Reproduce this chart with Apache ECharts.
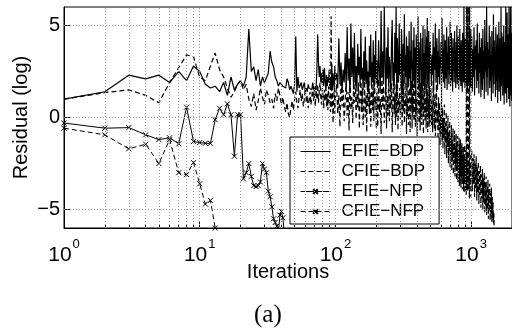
<!DOCTYPE html>
<html>
<head>
<meta charset="utf-8">
<script src="https://cdn.jsdelivr.net/npm/echarts@6/dist/echarts.min.js"></script>
<style>
html, body { margin: 0; padding: 0; background: #fff; }
#chart { width: 512px; height: 331px; }
</style>
</head>
<body>
<div id="chart"></div>
<script>
// residual values (log10)
// A: iterations 1..100, B: 102..200 step 2, C: 202..499 step 3, D: 505..1000 step 5, E: from 1010 step 10
var efieBdpA = [
    1.0, 1.4, 2.3, 2.1, 2.3, 1.9, 2.5, 2.0, 2.8, 2.5,
    1.8, 1.6, 1.7, 1.4, 1.9, 1.2, 2.2, 1.5, 1.8, 2.0,
    1.7, 2.2, 4.8, 2.5, 2.75, 2.0, 2.6, 1.7, 2.2, 1.9,
    2.0, 2.4, 3.6, 3.0, 2.75, 2.2, 2.0, 1.7, 1.9, 2.0,
    1.7, 1.8, 1.6, 2.1, 1.9, 1.5, 1.7, 1.6, 1.3, 1.8,
    4.4, 1.4, 2.2, 1.6, 1.5, 1.9, 1.5, 1.7, 1.9, 1.4,
    1.6, 1.4, 1.8, 1.6, 1.5, 1.7, 1.5, 1.9, 1.6, 1.4,
    1.7, 1.5, 2.6, 4.5, 3.0, 2.2, 2.8, 1.9, 2.4, 1.8,
    2.6, 1.7, 2.7, 2.0, 1.6, 2.3, 1.7, 2.2, 1.9, 2.6,
    1.5, 2.2, 1.7, 2.9, 1.5, 2.4, 2.0, 1.6, 2.8, 2.0
];
var efieBdpB = [
    2.4, 1.6, 4.3, 1.8, 3.0, 1.4, 2.6, 1.9, 3.5, 1.5,
    4.9, 2.0, 3.2, 1.3, 5.1, 2.2, 3.8, 1.6, 4.6, 1.9,
    2.8, 1.4, 4.0, 2.3, 3.3, 1.7, 4.8, 2.1, 2.7, 1.5,
    3.6, 2.0, 4.4, 1.8, 3.1, 1.6, 2.5, 1.3, 3.9, 2.2,
    4.5, 1.7, 3.0, 1.9, 4.2, 1.5, 3.4, 2.1, 4.7, 1.8
];
var efieBdpC = [
    3.1, 1.6, 4.2, 2.5, 1.3, 5.8, 2.2, 3.6, 1.8, 6.0,
    2.9, 1.2, 3.8, 2.1, 4.9, 1.7, 3.3, 2.6, 1.4, 4.1,
    5.3, 2.0, 3.0, 1.5, 4.6, 2.4, 6.0, 1.1, 4.3, 2.8,
    1.9, 5.1, 2.3, 3.5, 1.6, 4.8, 3.2, 1.3, 4.0, 2.5,
    5.6, 1.8, 3.4, 2.2, 4.4, 1.4, 3.9, 2.7, 1.7, 4.7,
    2.1, 3.6, 1.2, 5.2, 2.6, 3.1, 1.5, 4.2, 2.0, 4.9,
    1.6, 3.8, 2.4, 1.3, 4.5, 2.9, 3.3, 1.8, 5.5, 2.2,
    4.1, 1.4, 3.7, 2.6, 4.6, 1.9, 3.0, 1.1, 4.3, 2.3,
    5.0, 1.7, 3.5, 2.8, 1.5, 4.8, 2.1, 3.9, 1.3, 4.4,
    2.5, 5.4, 1.8, 3.2, 2.0, 4.7, 1.6, 3.6, 2.4, 4.1
];
var efieBdpD = [
    4.0, 1.7, 3.4, 2.3, 4.6, 1.4, 3.8, 2.6, 5.1, 1.9,
    3.1, 4.3, 1.5, 3.6, 2.2, 4.8, 1.8, 3.3, 2.7, 4.1,
    1.3, 5.4, 2.4, 3.7, 1.9, 4.5, 2.9, 1.6, 4.2, 3.0,
    2.1, 4.9, 1.5, 3.5, 2.6, 4.4, 1.8, 3.9, 2.3, 5.2,
    1.7, 3.2, 4.6, 2.0, 3.8, 1.4, 4.3, 2.8, 3.4, 1.9,
    4.7, 2.5, 3.6, 1.6, 4.1, 2.2, 5.0, 1.8, 3.3, 2.9,
    4.4, 1.5, 3.9, 2.4, 4.8, 2.0, 3.5, 1.7, 4.2, 2.7,
    3.1, 1.4, 4.6, 2.3, 3.8, 1.9, 6.0, 2.1, 3.6, 1.6,
    4.3, 2.6, 3.2, 1.8, 4.9, 2.2, 6.0, 1.5, 4.0, 2.8,
    3.7, 1.9, 6.0, 2.4, 4.5, 1.7, 3.4, 2.1, 4.8, 1.6
];
var efieBdpE = [
    4.4, 1.4, 3.7, 2.2, 4.9, 1.2, 3.9, 2.6, 4.2, 1.6,
    5.1, 2.0, 3.5, 1.3, 4.6, 2.4, 3.8, 1.1, 4.3, 2.8,
    1.5, 4.8, 2.1, 3.6, 1.0, 5.3, 2.5, 3.9, 1.4, 6.0,
    2.2, 4.1, 1.2, 3.7, 2.7, 5.0, 1.6, 4.4, 2.0, 3.4,
    0.9, 4.7, 2.3, 3.8, 1.3, 5.6, 1.8, 4.2, 2.6, 3.6,
    1.1, 4.9, 2.0, 4.0, 1.5, 4.5, 0.8, 3.9, 2.4, 5.2,
    1.4, 4.3, 2.1, 3.7, 0.9, 6.0, 1.7, 4.6, 2.5, 3.8,
    1.2, 4.4, 1.9, 5.0, 0.7, 4.1, 2.3, 3.6, 1.3, 6.0,
    2.0, 4.2, 0.8, 5.7, 1.6, 3.9, 2.2, 4.5, 1.0, 6.0,
    1.5, 4.7, 0.6, 4.0, 6.0, 5.1, 1.2, 4.4, 0.9, 4.6
];

var cfieBdpA = [
    1.0, 1.35, 1.5, 1.2, 0.8, 1.9, 2.7, 3.4, 3.3, 2.2,
    2.0, 2.8, 3.5, 2.6, 2.2, 1.6, 1.1, 1.4, 1.8, 2.0,
    1.5, 1.8, 1.0, 0.6, 1.3, 0.4, 0.9, 1.6, 1.1, 0.7,
    1.5, 1.2, 0.8, 1.0, 0.5, 1.3, 0.9, 1.6, 1.2, 0.7,
    1.1, 0.6, 0.3, 0.8, 0.2, 0.0, 0.5, 0.9, 0.4, 1.0,
    1.4, 0.8, 0.5, 1.1, 1.5, 0.9, 1.3, 0.6, 1.0, 1.6,
    0.8, 1.2, 0.5, 0.9, 1.4, 0.7, 1.1, 1.7, 0.9, 1.3,
    0.6, 1.5, 1.0, 1.8, 0.8, 1.4, 1.9, 1.1, 0.7, 1.6,
    1.2, 0.5, 1.5, 0.9, 1.8, 0.6, 1.3, 0.4, 1.7, 0.8,
    1.2, 0.3, 5.5, 0.5, 1.4, -0.3, 0.9, 1.6, 0.2, 1.1
];
var cfieBdpB = [
    1.8, 0.2, 1.2, -0.5, 2.3, 0.6, 1.5, -0.2, 0.9, 1.9,
    0.1, 1.4, -0.7, 2.6, 0.4, 1.1, -0.3, 1.7, 0.8, 2.2,
    -0.1, 1.3, 0.5, 1.9, -0.6, 1.0, 2.4, 0.3, 1.6, -0.4,
    0.7, 2.0, 0.0, 1.2, -0.8, 1.8, 0.6, 2.5, 0.2, 1.4,
    -0.5, 0.9, 2.1, 0.4, 1.5, -0.2, 2.3, 0.7, 1.1, -0.6
];
var cfieBdpC = [
    1.4, -0.5, 2.1, 0.3, 1.0, -0.9, 2.5, 0.6, 1.7, -0.3,
    0.9, 2.2, -0.6, 1.2, 0.1, 2.6, -0.2, 1.5, 0.5, 1.9,
    -0.8, 0.8, 2.3, 0.2, 1.3, -0.4, 1.8, 0.0, 2.7, -0.7,
    1.1, 0.4, 1.6, -0.1, 0.7, 2.0, -0.5, 1.4, 0.3, 2.4,
    -0.3, 1.0, 0.6, 1.9, -0.9, 1.2, 0.1, 2.2, -0.4, 0.8,
    1.6, -0.8, 1.1, 0.5, 2.0, -0.6, 1.3, 0.2, 1.8, -0.2,
    0.9, 2.4, -0.5, 1.5, 0.3, 1.0, -1.0, 1.7, 0.6, 2.1,
    -0.3, 0.7, 1.4, -0.7, 1.9, 0.0, 1.2, -0.4, 2.3, 0.4,
    0.8, -0.9, 1.6, 0.2, 2.6, -0.2, 1.1, 0.5, -0.6, 1.8,
    0.3, 1.4, -0.8, 2.0, 0.1, 1.0, -0.5, 1.7, 0.6, -0.3
];
var cfieBdpD = [
    1.6, -0.4, 0.9, -0.8, 2.0, 0.2, -0.6, 1.3, -1.0, 0.6,
    1.8, -0.3, 0.4, -1.2, 1.1, -0.7, 0.8, -1.5, 0.2, -0.9,
    1.3, -1.3, 0.5, -1.7, 0.0, -1.1, 0.7, -2.0, -0.3, -1.4,
    0.3, -2.2, -0.5, -1.6, 0.1, -2.5, -0.8, -1.8, -0.2, -2.7,
    -1.0, -2.1, -0.4, -2.9, -1.2, -2.3, -0.6, -3.1, -1.4, -2.5,
    -0.7, -3.2, -1.6, -2.6, -0.9, -3.4, -1.3, -2.8, -1.0, -3.5,
    -1.7, -3.0, -1.1, -3.7, -1.5, -3.2, -1.2, -3.8, -1.8, -3.3,
    -1.4, -3.9, -2.0, -3.4, -1.6, -4.0, -2.1, -3.5, -1.5, -4.1,
    -2.2, -3.6, -1.7, -4.2, 6.0, -3.8, -1.9, -4.0, -2.3, 6.0,
    -1.8, -3.9, -2.4, -4.4, 6.0, -2.0, -3.7, -2.6, -4.3, -2.2
];
var cfieBdpE = [
    -1.8, -4.0, -2.2, -3.6, -2.0, -4.3, -2.5, -3.9, -2.1, -4.5,
    -2.7, -4.1, -2.4, -4.7, -2.9, -4.2, -2.6, -4.9, -3.1, -4.4,
    -2.8, -5.0, -3.3, -4.6, -3.0, -5.2, -3.5, -4.8, -3.2, -5.3,
    -3.7, -5.0, -3.4, -5.5, -3.9, -5.1, -3.6, -5.6, -4.1, -5.3,
    -3.8, -5.7, -4.3, -5.5, -4.6, -5.8, -5.2, -6.5
];

// iterations 1..42
var efieNfp = [
    -0.3, -0.58, -0.55, -0.94, -1.2, -1.1, -1.43, 0.56, -1.3, -1.36,
    -1.4, -1.4, -0.12, 0.5, 0.15, 0.74, 0.15, -2.1, 0.15, 0.15,
    -3.33, -3.0, -2.5, -3.2, -3.7, -3.75, -3.7, -3.5, -2.5, -2.8,
    -3.0, -4.0, -4.3, -4.85, -5.5, -5.7, -5.9, -6.2, -5.3, -5.1,
    -5.45, -6.3
];
// iterations 1..13
var cfieNfp = [
    -0.58, -0.94, -1.7, -1.45, -2.5, -1.2, -3.0, -3.1, -2.45, -3.6,
    -4.7, -4.5, -6.0
];

var xLabelTicks = [1, 10, 100, 1000];
var xGridTicks = [2, 3, 4, 5, 6, 7, 8, 9, 10, 20, 30, 40, 50, 60, 70, 80, 90, 100,
    200, 300, 400, 500, 600, 700, 800, 900, 1000];
var yTicks = [-5, 0, 5];
var seriesNames = ["EFIE\u2212BDP", "CFIE\u2212BDP", "EFIE\u2212NFP", "CFIE\u2212NFP"];

function seg(start, step, values) {
    var out = [];
    for (var i = 0; i < values.length; i++) {
        out.push([start + i * step, values[i]]);
    }
    return out;
}

var efieBdp = [].concat(seg(1, 1, efieBdpA), seg(102, 2, efieBdpB), seg(202, 3, efieBdpC),
    seg(505, 5, efieBdpD), seg(1010, 10, efieBdpE));
var cfieBdp = [].concat(seg(1, 1, cfieBdpA), seg(102, 2, cfieBdpB), seg(202, 3, cfieBdpC),
    seg(505, 5, cfieBdpD), seg(1010, 10, cfieBdpE));

var xMark = "path://M0,0L10,10M10,0L0,10";
var font = "Liberation Sans";

var gridLines = [];
for (var i = 0; i < xGridTicks.length; i++) gridLines.push({ xAxis: xGridTicks[i] });
for (var j = 0; j < yTicks.length; j++) gridLines.push({ yAxis: yTicks[j] });

var chart = echarts.init(document.getElementById("chart"));
var option = {
    animation: false,
    title: {
        text: "(a)",
        left: 249,
        top: 298,
        textStyle: { fontFamily: "Liberation Serif", fontSize: 25, fontWeight: "normal", color: "#000" }
    },
    grid: { left: 64, top: 7, width: 450, height: 221, show: true, borderColor: "#000", borderWidth: 1 },
    legend: {
        data: [
            { name: seriesNames[0], itemStyle: { opacity: 0 } },
            { name: seriesNames[1], itemStyle: { opacity: 0 } },
            { name: seriesNames[2] },
            { name: seriesNames[3] }
        ],
        orient: "vertical",
        left: 290,
        top: 137,
        itemWidth: 30,
        itemHeight: 6,
        itemGap: 3,
        padding: [6, 14, 4, 10],
        borderColor: "#000",
        borderWidth: 1,
        backgroundColor: "#fff",
        lineStyle: { width: 1 },
        textStyle: { fontFamily: font, fontSize: 17, color: "#000", padding: [0, 0, 0, 6] }
    },
    xAxis: [
        {
            type: "log",
            logBase: 10,
            min: 1,
            max: 2000,
            name: "Iterations",
            nameLocation: "middle",
            nameGap: 34,
            nameMoveOverlap: false,
            nameTextStyle: { fontFamily: font, fontSize: 20, color: "#000" },
            axisLine: { onZero: false, lineStyle: { color: "#000", width: 1 } },
            axisTick: { inside: true, length: 6, customValues: xLabelTicks, lineStyle: { color: "#000" } },
            splitLine: { show: false },
            axisLabel: {
                customValues: xLabelTicks,
                margin: 10,
                formatter: function (v) {
                    return "{b|10}{s|" + Math.round(Math.log10(v)) + "}";
                },
                rich: {
                    b: { fontFamily: font, fontSize: 21, color: "#000" },
                    s: { fontFamily: font, fontSize: 13, color: "#000", padding: [0, 0, 22, 1] }
                }
            }
        },
        {
            type: "log",
            logBase: 10,
            min: 1,
            max: 2000,
            position: "bottom",
            axisLine: { show: false, onZero: false },
            axisTick: { inside: true, length: 3, customValues: xGridTicks, lineStyle: { color: "#000" } },
            axisLabel: { show: false },
            splitLine: { show: false }
        }
    ],
    yAxis: {
        type: "value",
        min: -6,
        max: 6,
        name: "Residual (log)",
        nameLocation: "middle",
        nameGap: 33,
        nameMoveOverlap: false,
        nameTextStyle: { fontFamily: font, fontSize: 20, color: "#000" },
        axisLine: { onZero: false, lineStyle: { color: "#000", width: 1 } },
        axisTick: { inside: true, length: 6, customValues: yTicks, lineStyle: { color: "#000" } },
        splitLine: { show: false },
        axisLabel: {
            customValues: yTicks,
            margin: 4,
            fontFamily: font,
            fontSize: 20,
            color: "#000",
            formatter: function (v) {
                return v < 0 ? "\u2212" + (-v) : String(v);
            }
        }
    },
    series: [
        {
            type: "line",
            data: [],
            silent: true,
            z: 1,
            markLine: {
                silent: true,
                symbol: ["none", "none"],
                label: { show: false },
                lineStyle: { color: "#999", type: [1, 2], width: 1 },
                data: gridLines
            }
        },
        {
            name: seriesNames[0],
            type: "line",
            data: efieBdp,
            symbol: "none",
            z: 3,
            lineStyle: { color: "#000", width: 1.2 },
            itemStyle: { color: "#000" }
        },
        {
            name: seriesNames[1],
            type: "line",
            data: cfieBdp,
            symbol: "none",
            z: 3,
            lineStyle: { color: "#000", width: 1.2, type: [5, 3] },
            itemStyle: { color: "#000" }
        },
        {
            name: seriesNames[2],
            type: "line",
            data: seg(1, 1, efieNfp),
            symbol: xMark,
            symbolSize: 5,
            z: 4,
            lineStyle: { color: "#000", width: 1 },
            itemStyle: { color: "#000", borderColor: "#000", borderWidth: 1 }
        },
        {
            name: seriesNames[3],
            type: "line",
            data: seg(1, 1, cfieNfp),
            symbol: xMark,
            symbolSize: 5,
            z: 4,
            lineStyle: { color: "#000", width: 1, type: [5, 3] },
            itemStyle: { color: "#000", borderColor: "#000", borderWidth: 1 }
        }
    ]
};
chart.setOption(option);
</script>
</body>
</html>
